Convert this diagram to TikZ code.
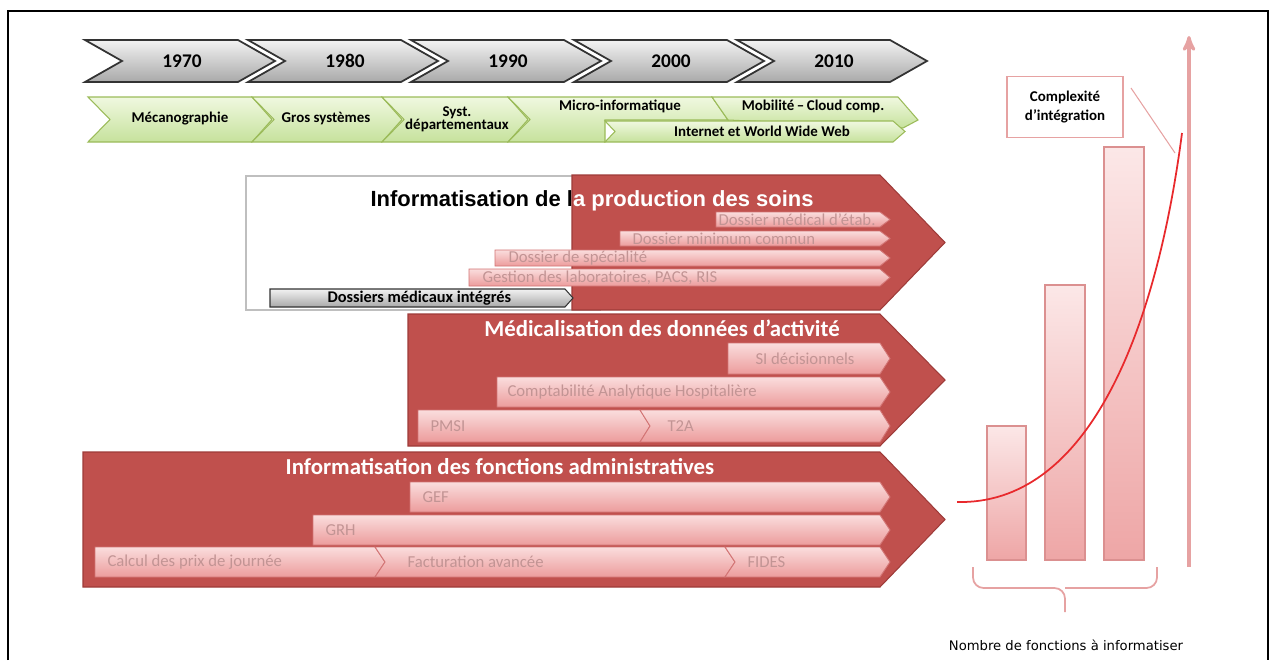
\documentclass[tikz,border=0pt]{standalone}
\usepackage{fontspec}
\setmainfont{Carlito}
\newfontfamily\arialf{Liberation Sans}
\newfontfamily\verdf{DejaVu Sans}
\usetikzlibrary{arrows}

\definecolor{rougeSI}{HTML}{C0504D}
\definecolor{rougeBord}{HTML}{9E3B39}
\definecolor{roseHaut}{HTML}{FADDDD}
\definecolor{roseBas}{HTML}{EC9C9C}
\definecolor{roseBord}{HTML}{D27474}
\definecolor{roseTxt}{HTML}{C29494}
\definecolor{vertHaut}{HTML}{F0F8E0}
\definecolor{vertBas}{HTML}{C6E29C}
\definecolor{vertBord}{HTML}{9BBB59}
\definecolor{grisHaut}{HTML}{F2F2F2}
\definecolor{grisBas}{HTML}{A9A9A9}
\definecolor{axeRose}{HTML}{E6A2A2}
\definecolor{courbeRouge}{HTML}{E8292C}

% fleche : style, x gauche, x fin du corps, y haut, y bas, pointe, encoche
\newcommand{\fleche}[7]{%
  \path[#1] (#2,#4) -- (#3,#4) -- ({#3+#6},{(#4+#5)/2}) -- (#3,#5) -- (#2,#5)
    -- ({#2+#7},{(#4+#5)/2}) -- cycle;}

\begin{document}
\begin{tikzpicture}[x=0.02cm,y=-0.02cm,>=stealth',
    frise/.style={draw=black!80,line width=1pt,top color=grisHaut,bottom color=grisBas},
    annee/.style={font=\bfseries\fontsize{11}{12}\selectfont},
    ere/.style={draw=vertBord,line width=0.6pt,top color=vertHaut,bottom color=vertBas},
    txtere/.style={font=\bfseries\fontsize{8.5}{9.5}\selectfont,align=center},
    grande/.style={fill=rougeSI,draw=rougeBord,line width=0.6pt},
    titre/.style={font=\bfseries\fontsize{13}{14}\selectfont,text=white},
    barre/.style={draw=roseBord,line width=0.5pt,top color=roseHaut,bottom color=roseBas},
    txtbarre/.style={font=\fontsize{9.5}{11}\selectfont,text=roseTxt,anchor=west,inner sep=0pt},
    colonne/.style={draw=roseBord!80,line width=0.6pt,top color=roseHaut!70,bottom color=roseBas!90},
    semithick]

\useasboundingbox (0,0) rectangle (1271,660);
\draw[line width=1.1pt] (8,660) -- (8,11) -- (1268,11) -- (1268,660);

% frise des decennies
\foreach \a [count=\i from 0] in {1970,1980,1990,2000,2010}{
  \pgfmathsetmacro\xg{85+163*\i}
  \pgfmathsetmacro\xd{\xg+153}
  \fleche{frise}{\xg}{\xd}{40}{82}{37}{37}
  \node[annee] (a\a) at ({\xg+97},61) {\a};
}

% eres informatiques
\fleche{ere}{88}{252}{97}{142}{20}{22}
\fleche{ere}{252}{382}{97}{142}{20}{22}
\fleche{ere}{382}{508}{97}{142}{20}{22}
\path[ere] (508,97) -- (712,97) -- (728,120) -- (605,120) -- (605,142) -- (508,142)
  -- (530,119.5) -- cycle;
\path[ere] (712,97) -- (898,97) -- (918,120) -- (903,128) -- (728,120) -- cycle;
\fleche{ere}{605}{893}{121}{142}{12}{10}
\node[txtere] (meca) at (180,119) {Mécanographie};
\node[txtere] (gros) at (326,119) {Gros systèmes};
\node[txtere] (syst) at (457,119) {Syst.\\[-2pt]départementaux};
\node[txtere] (micro) at (620,106) {Micro-informatique};
\node[txtere] (mobil) at (813,106) {Mobilité\,–\,Cloud comp.};
\node[txtere] (web) at (762,131) {Internet et World Wide Web};

% production des soins
\draw[black!25,fill=white] (246,176) rectangle (600,310);
\node[font=\arialf\bfseries\fontsize{12.5}{14}\selectfont] (soinsN) at (592,201)
  {Informatisation de la production des soins};
\fleche{grande}{572}{880}{175}{310}{65}{0}
\begin{scope}
  \clip (572,175) -- (880,175) -- (945,242.5) -- (880,310) -- (572,310) -- cycle;
  \node[font=\arialf\bfseries\fontsize{12.5}{14}\selectfont,text=white] (soinsB) at (592,201)
    {Informatisation de la production des soins};
\end{scope}
\fleche{barre}{716}{880}{212}{227}{10}{0}
\fleche{barre}{620}{880}{231}{246}{10}{0}
\fleche{barre}{495}{880}{250}{266}{10}{0}
\fleche{barre}{469}{880}{269}{286}{10}{0}
\fleche{frise,line width=0.6pt}{270}{565}{289}{307}{8}{0}
\node[txtbarre] (dme) at (718,219.5) {Dossier médical d’étab.};
\node[txtbarre] (dmc) at (632,238.5) {Dossier minimum commun};
\node[txtbarre] (dsp) at (508,258) {Dossier de spécialité};
\node[txtbarre] (glab) at (482,277.5) {Gestion des laboratoires, PACS, RIS};
\node[txtbarre,text=black,font=\bfseries\fontsize{9.3}{10}\selectfont] (dmi) at (327,298)
  {Dossiers médicaux intégrés};

% medicalisation
\fleche{grande}{408}{880}{314}{446}{65}{0}
\node[titre] (medic) at (662,328) {Médicalisation des données d’activité};
\fleche{barre}{728}{880}{343}{374}{10}{0}
\fleche{barre}{497}{880}{377}{407}{10}{0}
\fleche{barre}{418}{640}{410}{442}{10}{0}
\fleche{barre}{640}{880}{410}{442}{10}{10}
\node[txtbarre] (sid) at (755,358.5) {SI décisionnels};
\node[txtbarre] (cah) at (507,392) {Comptabilité Analytique Hospitalière};
\node[txtbarre] (pmsi) at (430,426) {PMSI};
\node[txtbarre] (t2a) at (667,426) {T2A};

% fonctions administratives
\fleche{grande}{83}{880}{452}{587}{65}{0}
\node[titre] (admin) at (500,467) {Informatisation des fonctions administratives};
\fleche{barre}{410}{880}{482}{512}{10}{0}
\fleche{barre}{313}{880}{515}{545}{10}{0}
\fleche{barre}{95}{375}{547}{577}{10}{0}
\fleche{barre}{375}{725}{547}{577}{10}{10}
\fleche{barre}{725}{880}{547}{577}{10}{10}
\node[txtbarre] (gef) at (422,497) {GEF};
\node[txtbarre] (grh) at (325,530) {GRH};
\node[txtbarre] (prix) at (107,562) {Calcul des prix de journée};
\node[txtbarre] (factu) at (407,562) {Facturation avancée};
\node[txtbarre] (fides) at (747,562) {FIDES};

% complexite
\path[colonne] (987,426) rectangle (1026,560);
\path[colonne] (1045,285) rectangle (1085,560);
\path[colonne] (1104,147) rectangle (1144,560);
\coordinate (axeBas) at (1189,567);
\coordinate (axeHaut) at (1189,36);
\draw[->,axeRose,line width=1.8pt] (axeBas) -- (axeHaut);
\coordinate (debut) at (957,502);
\coordinate (fin) at (1182,133);
\draw[courbeRouge,line width=1pt] (debut) .. controls (1085,505) and (1155,340) .. (fin);
\node[draw=axeRose,line width=0.8pt,fill=white,minimum width=2.32cm,minimum height=1.22cm,
  align=center,font=\bfseries\fontsize{8.5}{11}\selectfont] (complex) at (1065,107)
  {Complexité\\d’intégration};
\coordinate (renvoi) at (1131,88);
\coordinate (pied) at (1175,153);
\draw[axeRose,line width=0.6pt] (renvoi) -- (pied);
\draw[axeRose,line width=1pt,rounded corners=6] (973,567) -- (973,588) -- (1065,588) -- (1065,612);
\draw[axeRose,line width=1pt,rounded corners=6] (1157,567) -- (1157,588) -- (1065,588);
\node[font=\verdf\fontsize{7.5}{9}\selectfont] (nombre) at (1066,645)
  {Nombre de fonctions à informatiser};
\end{tikzpicture}
\end{document}
